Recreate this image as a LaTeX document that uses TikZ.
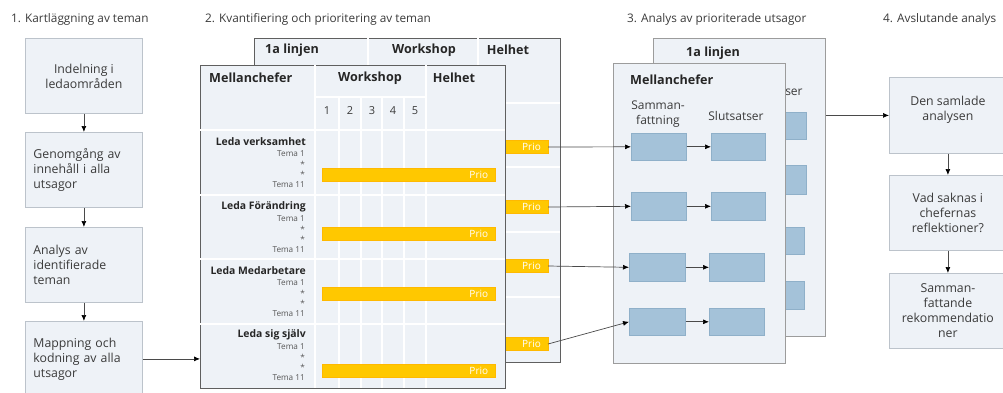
\documentclass[tikz,border=0pt]{standalone}
\usepackage{fontspec}
\setmainfont{Open Sans}
\usetikzlibrary{arrows.meta}
\definecolor{boxfill}{HTML}{EEF2F7}
\definecolor{boxline}{HTML}{BCC3CB}
\definecolor{tabline}{HTML}{5F5F5F}
\definecolor{panline}{HTML}{9C9C9C}
\definecolor{prio}{HTML}{FFC800}
\definecolor{blueb}{HTML}{A4C2D9}
\definecolor{bluel}{HTML}{8FB0C9}
\definecolor{txt}{HTML}{3A3A3A}
\definecolor{darktxt}{HTML}{262626}
\definecolor{conncol}{HTML}{4A4A4A}
\begin{document}
\begin{tikzpicture}[x=1pt,y=-1pt,
  title/.style={anchor=base west, font=\fontsize{11.8}{13}\selectfont, text=txt, inner sep=0},
  procbox/.style={draw=boxline, fill=boxfill, minimum width=117pt, inner sep=0, anchor=north west,
     font=\fontsize{12.3}{15}\selectfont, text=txt, line width=0.8pt},
  conn/.style={draw=conncol, line width=0.7pt, -{Latex[length=6pt,width=5pt,color=black]}},
  tabframe/.style={draw=tabline, fill=boxfill, line width=1.1pt, inner sep=0, anchor=north west},
  panel/.style={draw=panline, fill=boxfill, line width=1pt, inner sep=0, anchor=north west},
  gridw/.style={draw=white, line width=1.1pt},
  hdr/.style={font=\bfseries\fontsize{12.6}{14}\selectfont, text=darktxt, inner sep=0},
  rowlab/.style={font=\bfseries\fontsize{10.4}{12}\selectfont, text=darktxt, inner sep=0, anchor=east},
  tema/.style={font=\fontsize{8.2}{9}\selectfont, text=txt!85, inner sep=0, anchor=east},
  num/.style={font=\fontsize{11}{12}\selectfont, text=txt, inner sep=0},
  priobar/.style={fill=prio, draw=prio!80!orange, line width=0.3pt, anchor=north west, minimum height=13pt,
     inner xsep=7pt, inner ysep=0, text=white, font=\fontsize{10}{11}\selectfont, align=right},
  blue/.style={fill=blueb, draw=bluel, line width=0.6pt, anchor=north west, inner sep=0},
  ptxt/.style={font=\fontsize{12}{15}\selectfont, text=txt, inner sep=0, align=center},
]
\useasboundingbox (0,0) rectangle (1003,392);
\clip (0,0) rectangle (1003,392);

% ---------- titles
\node[title] (t1) at (11,22) {1. Kartläggning av teman};
\node[title] (t2) at (205,22) {2. Kvantifiering och prioritering av teman};
\node[title] (t3) at (627,22) {3. Analys av prioriterade utsagor};
\node[title] (t4) at (883,22) {4. Avslutande analys};

% ---------- column 1
\node[procbox, minimum height=75pt, align=center] (b1) at (25,38) {Indelning i\\ledaområden};
\node[procbox, minimum height=75pt, text width=101pt, align=left] (b2) at (25,132) {Genomgång av\\innehåll i alla\\utsagor};
\node[procbox, minimum height=75pt, text width=101pt, align=left] (b3) at (25,227) {Analys av\\identifierade\\teman};
\node[procbox, minimum height=75pt, text width=101pt, align=left] (b4) at (25,321) {Mappning och\\kodning av alla\\utsagor};
\draw[conn] (b1.south) -- (b2.north);
\draw[conn] (b2.south) -- (b3.north);
\draw[conn] (b3.south) -- (b4.north);

% ---------- back table (1a linjen)
\node[tabframe, minimum width=306pt, minimum height=324pt] (btab) at (254,38) {};
\draw[gridw] (368,38) -- (368,103);
\draw[gridw] (478,38) -- (478,103);
\foreach \yy in {103,167,232,297} \draw[gridw] (254,\yy) -- (560,\yy);
\node[hdr, anchor=west] (bh1) at (265,50) {1a linjen};
\node[hdr] (bh2) at (424,50) {Workshop};
\node[hdr] (bh3) at (508,50) {Helhet};
\node[priobar, minimum width=48pt, text width=34pt, inner xsep=7pt, anchor=east] (bp1) at (548,147) {Prio};
\node[priobar, minimum width=48pt, text width=34pt, inner xsep=7pt, anchor=east] (bp2) at (548,207) {Prio};
\node[priobar, minimum width=48pt, text width=34pt, inner xsep=7pt, anchor=east] (bp3) at (548,266) {Prio};
\node[priobar, minimum width=48pt, text width=34pt, inner xsep=7pt, anchor=east] (bp4) at (548,344) {Prio};

% ---------- front table (Mellanchefer)
\node[tabframe, minimum width=305pt, minimum height=323pt] (ftab) at (200,65) {};
\draw[gridw] (315,65) -- (315,388);
\draw[gridw] (426,65) -- (426,388);
\draw[gridw] (315,97) -- (426,97);
\foreach \xx in {339,361,382,404} \draw[gridw] (\xx,97) -- (\xx,388);
\foreach \yy in {130,195,259,324} \draw[gridw] (200,\yy) -- (505,\yy);
\node[hdr, anchor=west] (fh1) at (209,78) {Mellanchefer};
\node[hdr] (fh2) at (370,78) {Workshop};
\node[hdr] (fh3) at (454,78) {Helhet};
\node[num] (n1) at (327,111) {1};
\node[num] (n2) at (350,111) {2};
\node[num] (n3) at (372,111) {3};
\node[num] (n4) at (393,111) {4};
\node[num] (n5) at (415,111) {5};

% rows
\node[rowlab] (r1) at (306,142) {Leda verksamhet};
\node[rowlab] (r2) at (306,207) {Leda Förändring};
\node[rowlab] (r3) at (306,271) {Leda Medarbetare};
\node[rowlab] (r4) at (306,335) {Leda sig själv};
\foreach \base/\nm in {142/a,207/b,271/c,335/d}{
  \node[tema] (tm1\nm) at (305,\base+12) {Tema 1};
  \node[tema] (tmx\nm) at (305,\base+22) {*};
  \node[tema] (tmy\nm) at (305,\base+32) {*};
  \node[tema] (tm11\nm) at (305,\base+43) {Tema 11};
}
\node[priobar, minimum width=173pt, text width=159pt] (bar1) at (322,168) {Prio};
\node[priobar, minimum width=173pt, text width=159pt] (bar2) at (322,227) {Prio};
\node[priobar, minimum width=173pt, text width=159pt] (bar3) at (322,287) {Prio};
\node[priobar, minimum width=173pt, text width=159pt] (bar4) at (322,364) {Prio};

\draw[conn] (b4.east) -- (b4.east -| ftab.west);

% ---------- step 3
\node[panel, minimum width=172pt, minimum height=298pt] (p3b) at (653,38) {};
\node[hdr] (p3bh) at (713,53) {1a linjen};
\node[ptxt] (p3bs) at (775,91) {Slutsatser};
\node[blue, minimum width=55pt, minimum height=27pt] (bb1) at (751,112) {};
\node[blue, minimum width=55pt, minimum height=29pt] (bb2) at (751,165) {};
\node[blue, minimum width=55pt, minimum height=27pt] (bb3) at (749,227) {};
\node[blue, minimum width=55pt, minimum height=28pt] (bb4) at (749,281) {};

\node[panel, minimum width=172pt, minimum height=300pt] (p3f) at (613,63) {};
\node[hdr, anchor=west] (p3fh) at (630,80) {Mellanchefer};
\node[ptxt] (p3fs) at (658,114) {Samman-\\fattning};
\node[ptxt] (p3fc) at (736,116) {Slutsatser};
\node[blue, minimum width=55pt, minimum height=27pt] (sL1) at (631,133) {};
\node[blue, minimum width=54pt, minimum height=27pt] (sR1) at (711,133) {};
\node[blue, minimum width=55pt, minimum height=28pt] (sL2) at (631,192) {};
\node[blue, minimum width=54pt, minimum height=28pt] (sR2) at (711,192) {};
\node[blue, minimum width=56pt, minimum height=28pt] (sL3) at (629,253) {};
\node[blue, minimum width=55pt, minimum height=28pt] (sR3) at (709,253) {};
\node[blue, minimum width=56pt, minimum height=27pt] (sL4) at (629,308) {};
\node[blue, minimum width=55pt, minimum height=27pt] (sR4) at (709,308) {};
\foreach \i in {1,2,3,4} \draw[conn] (sL\i.east) -- (sR\i.west);

\draw[conn] (bp1.east) -- (sL1.west);
\draw[conn] (bp2.east) -- (sL2.west);
\draw[conn] (bp3.east) -- (sL3.west);
\draw[conn] (bp4.east) -- (sL4.west);

% ---------- step 4
\node[procbox, minimum height=76pt, align=center] (s4a) at (889,77) {Den samlade\\analysen\\\mbox{}};
\node[procbox, minimum height=75pt, align=center] (s4b) at (889,175) {Vad saknas i\\chefernas\\reflektioner?};
\node[procbox, minimum height=75pt, align=center] (s4c) at (889,273) {Samman-\\fattande\\rekommendatio\\ner};
\draw[conn] (s4a.south) -- (s4b.north);
\draw[conn] (s4b.south) -- (s4c.north);
\draw[conn] (p3b.east |- s4a.west) -- (s4a.west);
\end{tikzpicture}
\end{document}
